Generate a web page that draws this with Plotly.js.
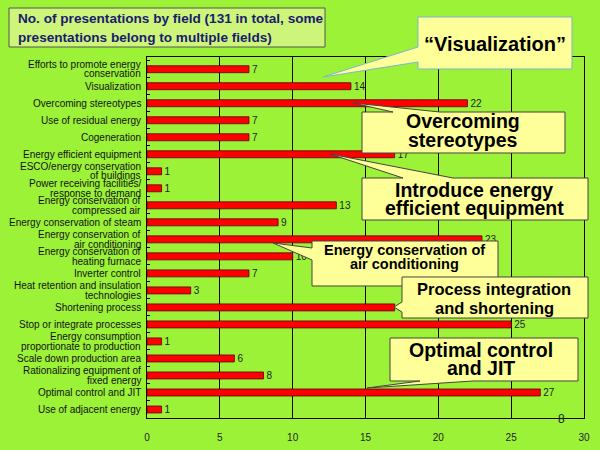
<!DOCTYPE html>
<html>
<head>
<meta charset="utf-8">
<script src="https://cdn.plot.ly/plotly-3.0.1.min.js"></script>
<style>html,body{margin:0;padding:0;background:#9bf237;}#chart{width:600px;height:450px;}</style>
</head>
<body>
<div id="chart"></div>
<script>
const categories = [
  "Efforts to promote energy<br>conservation",
  "Visualization",
  "Overcoming stereotypes",
  "Use of residual energy",
  "Cogeneration",
  "Energy efficient equipment",
  "ESCO/energy conservation<br>of buildings",
  "Power receiving facilities/<br>response to demand",
  "Energy conservation of<br>compressed air",
  "Energy conservation of steam",
  "Energy conservation of<br>air conditioning",
  "Energy conservation of<br>heating furnace",
  "Inverter control",
  "Heat retention and insulation<br>technologies",
  "Shortening process",
  "Stop or integrate processes",
  "Energy consumption<br>proportionate to production",
  "Scale down production area",
  "Rationalizing equipment of<br>fixed energy",
  "Optimal control and JIT",
  "Use of adjacent energy"
];
const values = [7, 14, 22, 7, 7, 17, 1, 1, 13, 9, 23, 10, 7, 3, 17, 25, 1, 6, 8, 27, 1];
const xTicks = [0, 5, 10, 15, 20, 25, 30];
const titleLines = ["No. of presentations by field (131 in total, some", "presentations belong to multiple fields)"];

// layout helpers: pixel -> paper
const L = 147, R = 584, T = 57, B = 418;
const X = p => (p - L) / (R - L);
const Y = p => (B - p) / (B - T);
const poly = pts => "M " + pts.map(p => X(p[0]).toFixed(4) + "," + Y(p[1]).toFixed(4)).join(" L ") + " Z";

const bg = "#9bf237";
const calloutFill = "#ffff99";
const FONT = "Liberation Sans, Arial, sans-serif";

const callouts = [
  {pts: [[418,17],[572,17],[572,69],[418,69],[418,62],[323,77],[418,47]], line: "#7fb3d5"},
  {pts: [[362,112],[393,112],[353,103],[440,112],[565,112],[565,153],[362,153]], line: "#444"},
  {pts: [[362,178],[403,178],[330,154],[453,178],[588,178],[588,220],[362,220]], line: "#444"},
  {pts: [[312,241],[498,241],[498,286],[312,286],[312,260],[273,243],[312,248]], line: "#444"},
  {pts: [[402,277],[588,277],[588,318],[402,318],[402,312],[394,307],[402,302]], line: "#444"},
  {pts: [[390,338],[578,338],[578,381],[473,381],[367,388],[420,381],[390,381]], line: "#444"}
];

const shapes = [
  {type: "rect", xref: "paper", yref: "paper", x0: X(9), x1: X(325), y0: Y(47), y1: Y(8),
   fillcolor: "#ccf57a", line: {color: "#555", width: 1}, layer: "above"}
].concat(callouts.map(c => ({type: "path", xref: "paper", yref: "paper", path: poly(c.pts),
   fillcolor: calloutFill, line: {color: c.line, width: 1}, layer: "above"})));

const calloutTexts = [
  {t: "\u201CVisualization\u201D", x: 495, y: 44, s: 20},
  {t: "Overcoming", x: 463, y: 121, s: 19.5},
  {t: "stereotypes", x: 463, y: 140, s: 19.5},
  {t: "Introduce energy", x: 474, y: 190, s: 19.5},
  {t: "efficient equipment", x: 474, y: 208, s: 19.5},
  {t: "Energy conservation of", x: 404, y: 250, s: 14.5},
  {t: "air conditioning", x: 404, y: 264, s: 14.5},
  {t: "Process integration", x: 494, y: 289, s: 16.5},
  {t: "and shortening", x: 494, y: 308, s: 16.5},
  {t: "Optimal control", x: 481, y: 350, s: 19.5},
  {t: "and JIT", x: 481, y: 368, s: 19.5}
];

let annotations = calloutTexts.map(a => ({
  xref: "paper", yref: "paper", x: X(a.x), y: Y(a.y), xanchor: "center", yanchor: "middle",
  text: "<b>" + a.t + "</b>", showarrow: false,
  font: {family: FONT, size: a.s, color: "#000"}
})).concat(titleLines.map((t, i) => ({
  xref: "paper", yref: "paper", x: X(16), y: Y(i === 0 ? 19 : 37), xanchor: "left", yanchor: "middle",
  text: "<b>" + t + "</b>", showarrow: false,
  font: {family: FONT, size: 13.6, color: "#1a1a70"}
}))).concat([{
  xref: "paper", yref: "paper", x: X(561), y: Y(419), xanchor: "center", yanchor: "middle",
  text: "8", showarrow: false, font: {family: FONT, size: 12, color: "#222"}
}]);

// category labels, one annotation per line for tight line spacing
categories.forEach(c => {
  const lines = c.split("<br>");
  lines.forEach((ln, j) => {
    const shift = lines.length === 1 ? 0 : (j === 0 ? 4.7 : -4.7);
    annotations.push({
      xref: "paper", yref: "y", x: X(143), y: c, yshift: shift,
      xanchor: "right", yanchor: "middle", text: ln, showarrow: false,
      font: {family: FONT, size: 10, color: "#111"}
    });
  });
});

const trace = {
  type: "bar", orientation: "h",
  y: categories, x: values,
  marker: {color: "#ff0000", line: {color: "#5a0000", width: 0.8}},
  text: values.map(String), textposition: "outside", cliponaxis: false, constraintext: "none",
  textfont: {family: FONT, size: 10, color: "#222"},
  hoverinfo: "skip"
};

const layout = {
  width: 600, height: 450,
  margin: {l: L, r: 600 - R, t: T, b: 450 - B, pad: 0},
  paper_bgcolor: bg, plot_bgcolor: bg,
  showlegend: false,
  bargap: 0.59,
  font: {family: FONT, size: 10, color: "#111"},
  xaxis: {
    range: [0, 30], tickvals: xTicks, ticktext: xTicks.map(String),
    showgrid: true, gridcolor: "#000", gridwidth: 1,
    zeroline: false, showline: true, linecolor: "#000", linewidth: 1, mirror: true,
    ticks: "", ticklabelstandoff: 10,
    tickfont: {size: 10, color: "#222"}, fixedrange: true
  },
  yaxis: {
    type: "category", autorange: "reversed",
    showgrid: false, zeroline: false, showline: true, linecolor: "#000", linewidth: 1, mirror: true,
    ticks: "inside", tickson: "boundaries", ticklen: 3, tickcolor: "#000",
    showticklabels: false, fixedrange: true
  },
  shapes: shapes,
  annotations: annotations
};

Plotly.newPlot("chart", [trace], layout, {staticPlot: true, displayModeBar: false});
</script>
</body>
</html>
